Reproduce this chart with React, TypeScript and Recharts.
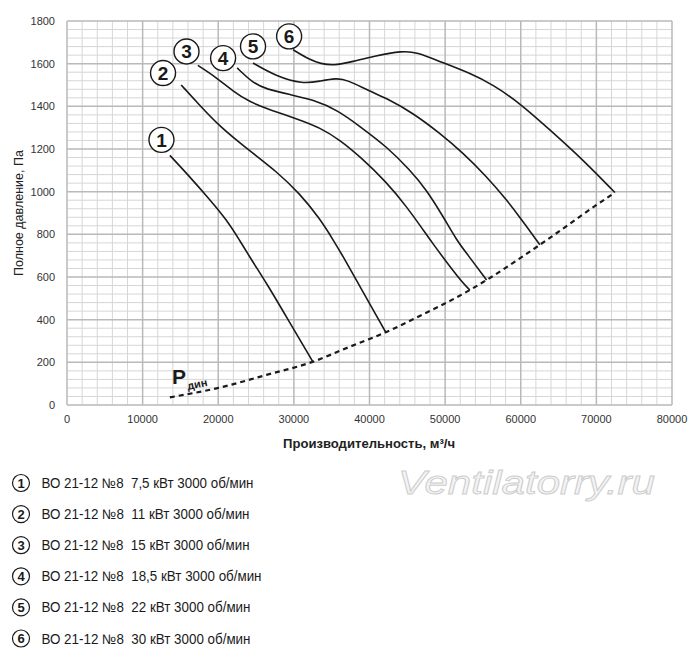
import React from 'react';
import { LineChart, Line, XAxis, YAxis, ReferenceLine, ReferenceDot } from 'recharts';

// ---- data (flow m3/h, pressure Pa) ----
const curve1 = [
  { q: 13600, p: 1170 }, { q: 16200, p: 1071 }, { q: 18900, p: 962 }, { q: 21100, p: 868 },
  { q: 22800, p: 774 }, { q: 24400, p: 680 }, { q: 26400, p: 570 }, { q: 29000, p: 414 },
  { q: 32500, p: 203 },
];
const curve2 = [
  { q: 15100, p: 1500 }, { q: 17550, p: 1405 }, { q: 20200, p: 1305 }, { q: 24200, p: 1190 },
  { q: 27700, p: 1095 }, { q: 30800, p: 990 }, { q: 33400, p: 875 }, { q: 35200, p: 774 },
  { q: 36500, p: 696 }, { q: 37400, p: 640 }, { q: 42150, p: 341 },
];
const curve3 = [
  { q: 17300, p: 1592 }, { q: 19760, p: 1535 }, { q: 21960, p: 1470 }, { q: 24170, p: 1420 },
  { q: 26800, p: 1384 }, { q: 30780, p: 1337 }, { q: 33430, p: 1300 }, { q: 36070, p: 1243 },
  { q: 38720, p: 1165 }, { q: 42250, p: 1045 }, { q: 44900, p: 930 }, { q: 47100, p: 821 },
  { q: 48000, p: 774 }, { q: 51950, p: 586 }, { q: 53270, p: 539 },
];
const curve4 = [
  { q: 22500, p: 1580 }, { q: 24600, p: 1509 }, { q: 26400, p: 1480 }, { q: 29500, p: 1455 },
  { q: 32540, p: 1431 }, { q: 35800, p: 1382 }, { q: 38720, p: 1306 }, { q: 42250, p: 1212 },
  { q: 45330, p: 1102 }, { q: 47540, p: 1009 }, { q: 49740, p: 883 }, { q: 51500, p: 774 },
  { q: 52820, p: 712 }, { q: 55480, p: 586 },
];
const curve5 = [
  { q: 24600, p: 1603 }, { q: 27700, p: 1540 }, { q: 31200, p: 1505 }, { q: 33400, p: 1518 },
  { q: 35600, p: 1532 }, { q: 37000, p: 1525 }, { q: 40040, p: 1470 }, { q: 42250, p: 1438 },
  { q: 45770, p: 1368 }, { q: 49300, p: 1274 }, { q: 52380, p: 1181 }, { q: 55480, p: 1071 },
  { q: 58120, p: 962 }, { q: 59880, p: 880 }, { q: 62530, p: 751 },
];
const curve6 = [
  { q: 29900, p: 1665 }, { q: 32100, p: 1618 }, { q: 33560, p: 1600 }, { q: 35190, p: 1590 },
  { q: 37830, p: 1610 }, { q: 40480, p: 1634 }, { q: 44440, p: 1661 }, { q: 46220, p: 1653 },
  { q: 49300, p: 1610 }, { q: 53270, p: 1556 }, { q: 56350, p: 1501 }, { q: 59880, p: 1415 },
  { q: 63850, p: 1290 }, { q: 68250, p: 1149 }, { q: 72450, p: 996 },
];
const pDyn = [
  { q: 13600, p: 36 }, { q: 19760, p: 78 }, { q: 26380, p: 141 }, { q: 32540, p: 203 },
  { q: 37390, p: 273 }, { q: 42160, p: 341 }, { q: 46220, p: 410 }, { q: 53270, p: 539 },
  { q: 55480, p: 586 }, { q: 62530, p: 751 }, { q: 70030, p: 938 }, { q: 72450, p: 996 },
];
const curves = [curve1, curve2, curve3, curve4, curve5, curve6];

const curveMarks = [
  { n: '1', q: 12490, p: 1243 },
  { n: '2', q: 12700, p: 1556 },
  { n: '3', q: 15800, p: 1657 },
  { n: '4', q: 20640, p: 1626 },
  { n: '5', q: 24600, p: 1681 },
  { n: '6', q: 29370, p: 1728 },
];

const legendLabels = [
  'ВО 21-12 №8  7,5 кВт 3000 об/мин',
  'ВО 21-12 №8  11 кВт 3000 об/мин',
  'ВО 21-12 №8  15 кВт 3000 об/мин',
  'ВО 21-12 №8  18,5 кВт 3000 об/мин',
  'ВО 21-12 №8  22 кВт 3000 об/мин',
  'ВО 21-12 №8  30 кВт 3000 об/мин',
];
const legendWidths = [212, 208, 208, 220, 209, 209];

const xTicks = [0, 10000, 20000, 30000, 40000, 50000, 60000, 70000, 80000];
const yTicks = [0, 200, 400, 600, 800, 1000, 1200, 1400, 1600, 1800];
const xMinor = Array.from({ length: 41 }, (_, i) => i * 2000).filter((v) => v % 10000 !== 0);
const yMinor = Array.from({ length: 46 }, (_, i) => i * 40).filter((v) => v % 200 !== 0);

const FONT = '"Liberation Sans Narrow", "Liberation Sans", Arial, sans-serif';
const TICK_FONT = '"Liberation Sans", Arial, sans-serif';
const MINOR = '#d6d6d6';
const MAJOR = '#b9b9b9';
const INK = '#1a1a1a';

export default function App() {
  return (
    <div style={{ position: 'absolute', left: 0, top: 0, width: 700, height: 663, background: '#fff' }}>
      <div style={{ position: 'absolute', left: 0, top: 0 }}>
        <LineChart width={700} height={460} margin={{ top: 21, right: 28, bottom: 25, left: 0 }}>
          <XAxis
            type="number"
            dataKey="q"
            domain={[0, 80000]}
            ticks={xTicks}
            axisLine={false}
            tickLine={false}
            tickSize={0}
            tickMargin={10}
            height={30}
            tick={{ fontSize: 11, fill: '#333', fontFamily: TICK_FONT }}
            allowDataOverflow
          />
          <YAxis
            type="number"
            dataKey="p"
            domain={[0, 1800]}
            ticks={yTicks}
            axisLine={false}
            tickLine={false}
            tickSize={0}
            tickMargin={12}
            width={67}
            tick={{ fontSize: 11, fill: '#333', fontFamily: TICK_FONT }}
            allowDataOverflow
          />
          {xMinor.map((v) => (
            <ReferenceLine key={'xm' + v} x={v} stroke={MINOR} strokeWidth={1} />
          ))}
          {yMinor.map((v) => (
            <ReferenceLine key={'ym' + v} y={v} stroke={MINOR} strokeWidth={1} />
          ))}
          {xTicks.map((v) => (
            <ReferenceLine key={'xM' + v} x={v} stroke={MAJOR} strokeWidth={1.5} />
          ))}
          {yTicks.map((v) => (
            <ReferenceLine key={'yM' + v} y={v} stroke={MAJOR} strokeWidth={1.5} />
          ))}
          {curves.map((c, i) => (
            <Line
              key={'c' + i}
              data={c}
              dataKey="p"
              type="basis"
              stroke={INK}
              strokeWidth={1.6}
              dot={false}
              activeDot={false}
              isAnimationActive={false}
            />
          ))}
          <Line
            data={pDyn}
            dataKey="p"
            type="monotone"
            stroke={INK}
            strokeWidth={2.2}
            strokeDasharray="5 4"
            dot={false}
            activeDot={false}
            isAnimationActive={false}
          />
          {curveMarks.map((m) => (
            <ReferenceDot
              key={'m' + m.n}
              x={m.q}
              y={m.p}
              r={12.5}
              fill="#fff"
              stroke={INK}
              strokeWidth={1.4}
              label={{ value: m.n, position: 'center', fill: INK, fontSize: 19, fontWeight: 700, fontFamily: FONT }}
            />
          ))}
        </LineChart>
      </div>
      <svg
        width={700}
        height={663}
        style={{ position: 'absolute', left: 0, top: 0, pointerEvents: 'none' }}
      >
        <text
          x={0}
          y={0}
          transform="translate(23,213) rotate(-90)"
          textAnchor="middle"
          fontSize={13}
          fontFamily={FONT}
          fill="#222"
          textLength={126}
          lengthAdjust="spacingAndGlyphs"
        >
          Полное давление, Па
        </text>
        <text
          x={369}
          y={448}
          textAnchor="middle"
          fontSize={13}
          fontWeight={700}
          fontFamily={FONT}
          fill="#222"
          textLength={172}
          lengthAdjust="spacingAndGlyphs"
        >
          Производительность, м³/ч
        </text>
        <text x={172} y={384} fontSize={21} fontWeight={700} fontFamily={FONT} fill={INK}>
          P
        </text>
        <text
          x={0}
          y={0}
          transform="translate(188,390) rotate(-12)"
          fontSize={11}
          fontWeight={700}
          fontFamily={FONT}
          fill={INK}
        >
          дин
        </text>
        <text
          x={398}
          y={494}
          fontSize={34}
          fontStyle="italic"
          fontFamily={FONT}
          fill="#f4f4f4"
          stroke="#cdcdcd"
          strokeWidth={0.9}
          textLength={257}
          lengthAdjust="spacingAndGlyphs"
        >
          Ventilatorry.ru
        </text>
        {legendLabels.map((t, i) => {
          const cy = 483 + i * 31.1;
          return (
            <g key={'lg' + i}>
              <circle cx={21} cy={cy} r={8.5} fill="#fff" stroke={INK} strokeWidth={1.2} />
              <text
                x={21}
                y={cy + 4.5}
                textAnchor="middle"
                fontSize={13}
                fontWeight={700}
                fontFamily={FONT}
                fill={INK}
              >
                {String(i + 1)}
              </text>
              <text
                x={41.5}
                y={cy + 5}
                fontSize={14}
                fontFamily={FONT}
                fill={INK}
                style={{ whiteSpace: 'pre' }}
                textLength={legendWidths[i]}
                lengthAdjust="spacingAndGlyphs"
              >
                {t}
              </text>
            </g>
          );
        })}
      </svg>
    </div>
  );
}
